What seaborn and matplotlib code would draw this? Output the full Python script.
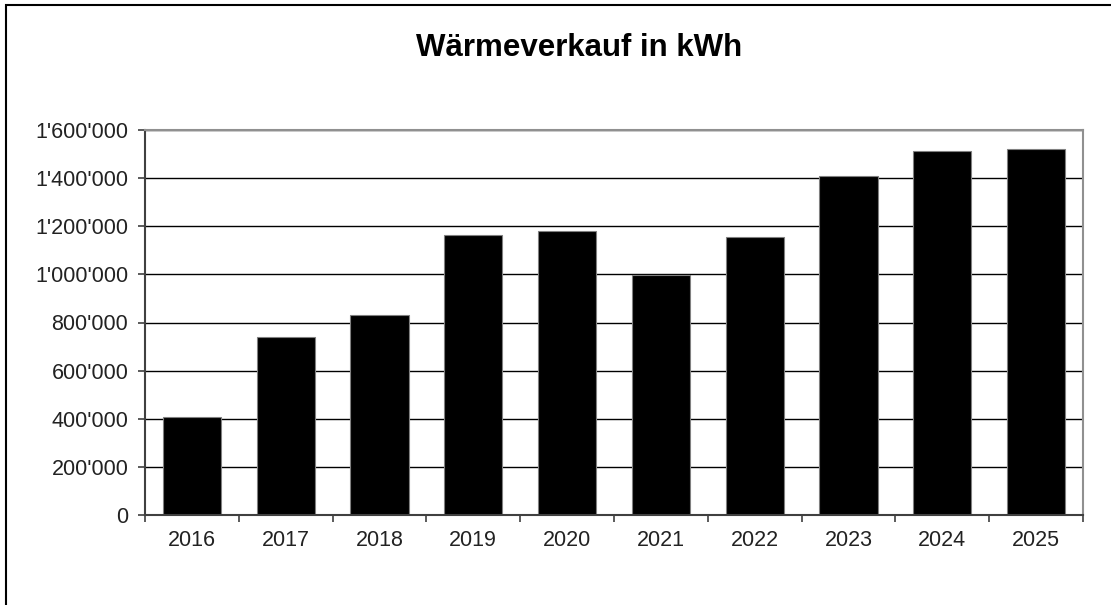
import matplotlib
matplotlib.use("Agg")
import matplotlib.pyplot as plt
import matplotlib.ticker as mticker
from matplotlib.patches import Rectangle
import pandas as pd
import seaborn as sns

years = ["2016", "2017", "2018", "2019", "2020", "2021", "2022", "2023", "2024", "2025"]
kwh = [407000, 738000, 833000, 1163000, 1179000, 996000, 1157000, 1407000, 1513000, 1523000]
y_ticks = [0, 200000, 400000, 600000, 800000, 1000000, 1200000, 1400000, 1600000]

sns.set_style("white")
plt.rcParams["font.family"] = ["Liberation Sans", "DejaVu Sans"]

df = pd.DataFrame({"year": years, "kwh": kwh})

fig = plt.figure(figsize=(11.11, 6.05), dpi=100)
ax = fig.add_axes([145 / 1111, 1 - 515 / 605, (1083 - 145) / 1111, (515 - 130) / 605])

ax.yaxis.grid(True, color="black", linewidth=1.0, zorder=0)
ax.set_axisbelow(True)
sns.barplot(data=df, x="year", y="kwh", color="black", width=0.62,
            edgecolor="#808080", linewidth=0.8, saturation=1, ax=ax)

ax.set_ylim(0, 1600000)
ax.set_xlim(-0.5, len(years) - 0.5)
ax.set_yticks(y_ticks)
ax.yaxis.set_major_formatter(mticker.FuncFormatter(lambda v, p: f"{int(v):,}".replace(",", "'")))
ax.set_xticks(range(len(years)))
ax.set_xticklabels(years)
ax.set_xticks([i - 0.5 for i in range(len(years) + 1)], minor=True)
ax.tick_params(axis="x", which="major", bottom=True, length=0, pad=11, labelsize=15.5,
               labelcolor="#222222")
ax.tick_params(axis="x", which="minor", bottom=True, length=5, width=1.2, color="#404040",
               direction="out")
ax.tick_params(axis="y", left=True, length=5, width=1.2, color="#404040", direction="out",
               pad=7, labelsize=15.5, labelcolor="#222222")

ax.set_xlabel("")
ax.set_ylabel("")
for side in ["left", "bottom"]:
    ax.spines[side].set_color("#404040")
    ax.spines[side].set_linewidth(1.5)
for side in ["top", "right"]:
    ax.spines[side].set_visible(True)
    ax.spines[side].set_color("#909090")
    ax.spines[side].set_linewidth(1.5)

fig.text(579 / 1111, 1 - 48 / 605, "Wärmeverkauf in kWh", ha="center", va="center",
         fontsize=22.5, fontweight="bold", color="black")

# outer chart frame (cut off at right and bottom)
fig.patches.append(Rectangle((5.5 / 1111, -0.1), 1.2, 1 - 4.5 / 605 + 0.1,
                             transform=fig.transFigure, fill=False,
                             edgecolor="black", linewidth=1.5, figure=fig))

fig.savefig("out.png", dpi=100)
